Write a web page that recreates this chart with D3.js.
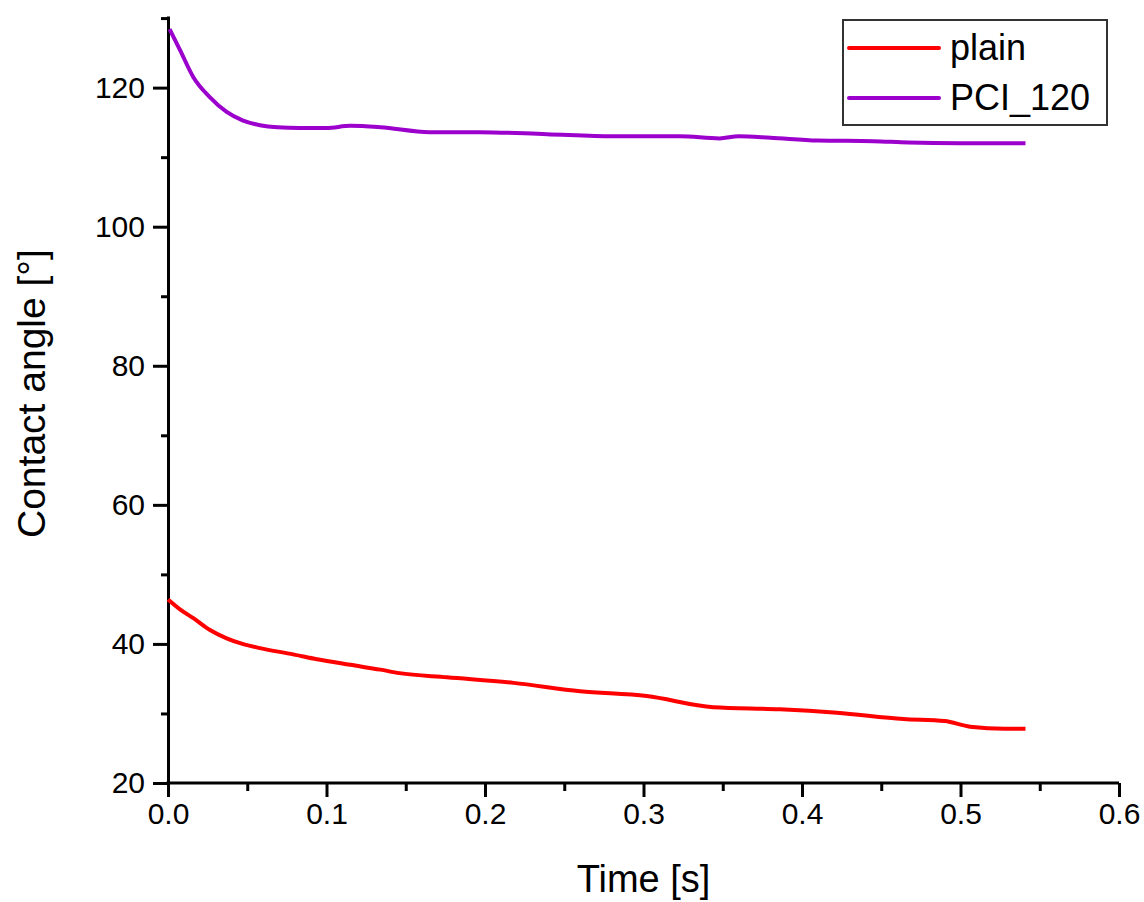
<!DOCTYPE html>
<html>
<head>
<meta charset="utf-8">
<script src="https://cdn.jsdelivr.net/npm/d3@7"></script>
<style>
  body { margin: 0; background: #fff; }
  svg { display: block; font-family: Arial, "Liberation Sans", sans-serif; }
</style>
</head>
<body>
<div class="svg-container"></div>
<script>
// values
var seriesNames = ['plain', 'PCI_120'];
var seriesColors = ['#ff0000', '#9b00cc'];

var plainTime  = [0, 0.008, 0.016, 0.0265, 0.037, 0.047, 0.058, 0.079, 0.094, 0.115, 0.134, 0.146, 0.176, 0.218, 0.26, 0.302, 0.344, 0.386, 0.422, 0.464, 0.49, 0.506, 0.528, 0.541];
var plainAngle = [46.4, 44.9, 43.7, 42.0, 40.8, 40.0, 39.4, 38.5, 37.8, 37.0, 36.3, 35.8, 35.2, 34.4, 33.2, 32.5, 30.9, 30.6, 30.1, 29.2, 28.9, 28.1, 27.8, 27.8];

var pciTime  = [0.001, 0.0076, 0.016, 0.0265, 0.037, 0.047, 0.058, 0.069, 0.083, 0.1, 0.115, 0.134, 0.165, 0.197, 0.239, 0.281, 0.323, 0.348, 0.36, 0.38, 0.41, 0.445, 0.467, 0.5, 0.541];
var pciAngle = [128.4, 125.4, 121.5, 118.6, 116.5, 115.3, 114.6, 114.3, 114.2, 114.2, 114.5, 114.3, 113.6, 113.6, 113.3, 113.0, 113.0, 112.7, 113.0, 112.8, 112.4, 112.3, 112.1, 112.0, 112.0];

var xMajor = [0, 0.1, 0.2, 0.3, 0.4, 0.5, 0.6];
var xMinor = [0.05, 0.15, 0.25, 0.35, 0.45, 0.55];
var yMajor = [20, 40, 60, 80, 100, 120];
var yMinor = [30, 50, 70, 90, 110, 130];

var width = 1144, height = 902;

var svg = d3.select('.svg-container').append('svg')
    .attr('width', width)
    .attr('height', height);

var x = d3.scaleLinear().domain([0, 0.6]).range([168, 1119]);
var y = d3.scaleLinear().domain([20, 130.3]).range([783, 16]);

// axes (only left and bottom, Origin style)
var xAxis = svg.append('g').attr('class', 'x major')
    .attr('transform', 'translate(0,783)')
    .call(d3.axisBottom(x).tickValues(xMajor).tickSize(14).tickSizeOuter(0).tickPadding(6).tickFormat(d3.format('.1f')));
svg.append('g').attr('class', 'x minor')
    .attr('transform', 'translate(0,783)')
    .call(d3.axisBottom(x).tickValues(xMinor).tickSize(8).tickFormat(''));

var yAxis = svg.append('g').attr('class', 'y major')
    .attr('transform', 'translate(168,0)')
    .call(d3.axisLeft(y).tickValues(yMajor).tickSize(15).tickSizeOuter(0).tickPadding(8));
svg.append('g').attr('class', 'y minor')
    .attr('transform', 'translate(168,0)')
    .call(d3.axisLeft(y).tickValues(yMinor).tickSize(7).tickFormat(''));

svg.selectAll('.minor .domain').remove();
svg.selectAll('.domain').attr('stroke', '#000').attr('stroke-width', 3);
xAxis.select('.domain').attr('d', 'M' + (x(0) - 1.5) + ',0H' + x(0.6));
svg.selectAll('.tick line').attr('stroke', '#000').attr('stroke-width', 3);
svg.selectAll('.tick text').attr('fill', '#000').style('font-size', '30px');

// axis titles
svg.append('text')
    .attr('x', x(0.3))
    .attr('y', 892)
    .attr('text-anchor', 'middle')
    .style('font-size', '38px')
    .text('Time [s]');

svg.append('text')
    .attr('transform', 'translate(45,' + y(76) + ') rotate(-90)')
    .attr('text-anchor', 'middle')
    .style('font-size', '39px')
    .text('Contact angle [°]');

// lines
var line = d3.line()
    .x(function(d){ return x(d[0]); })
    .y(function(d){ return y(d[1]); })
    .curve(d3.curveMonotoneX);

var series = [
  d3.zip(plainTime, plainAngle),
  d3.zip(pciTime, pciAngle)
];

svg.append('g').attr('class', 'lines')
  .selectAll('path')
  .data(series)
  .enter().append('path')
  .attr('d', line)
  .attr('fill', 'none')
  .attr('stroke', function(d, i){ return seriesColors[i]; })
  .attr('stroke-width', 4)
  .attr('stroke-linejoin', 'round');

// legend
var legend = svg.append('g').attr('class', 'legend');
legend.append('rect')
    .attr('x', 843).attr('y', 20)
    .attr('width', 264).attr('height', 105)
    .attr('fill', '#fff')
    .attr('stroke', '#333')
    .attr('stroke-width', 2);

var items = legend.selectAll('.item')
    .data(seriesNames)
    .enter().append('g')
    .attr('transform', function(d, i){ return 'translate(0,' + (48 + i * 50) + ')'; });
items.append('line')
    .attr('x1', 849).attr('x2', 939)
    .attr('stroke', function(d, i){ return seriesColors[i]; })
    .attr('stroke-width', 4)
    .attr('stroke-linecap', 'round');
items.append('text')
    .attr('x', 950)
    .attr('y', 12)
    .style('font-size', '36px')
    .text(function(d){ return d; });
</script>
</body>
</html>
